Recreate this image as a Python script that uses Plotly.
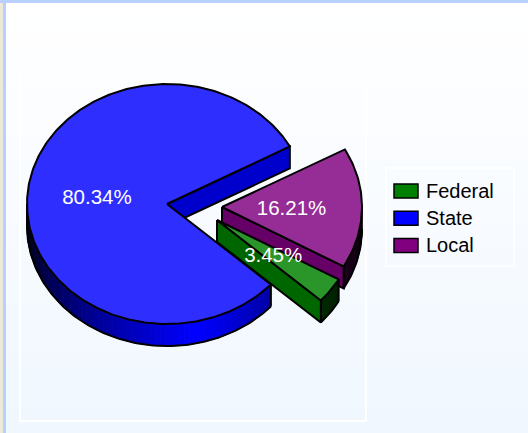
import math
import plotly.graph_objects as go

categories = ["Federal", "State", "Local"]
values = [3.45, 80.34, 16.21]
label_texts = ["3.45%", "80.34%", "16.21%"]

W, H = 528, 433
START = -29.7          # ellipse angle where the first slice begins; slices run clockwise
RX, RY, DEPTH = 140, 120, 22
CENTERS = {"Federal": (217, 220), "State": (167, 204), "Local": (222, 207)}
BASE = {"Federal": (0, 128, 0), "State": (0, 0, 255), "Local": (128, 0, 128)}
TOP = {"Federal": (42, 150, 42), "State": (46, 46, 255), "Local": (150, 45, 150)}
EDGE = {"Federal": (0, 102, 0), "State": (0, 0, 204), "Local": (102, 0, 102)}
SHADE = {"Federal": (-45, 50, 0.35), "State": (-78, 102, 1.0), "Local": (-45, 50, 0.35)}
LABEL_DY = 2


def rgb(c):
    return "rgb(%d,%d,%d)" % tuple(round(v) for v in c)


def pt(center, t, dy=0):
    r = math.radians(t)
    return center[0] + RX * math.cos(r), center[1] - RY * math.sin(r) + dy


def arc(center, t0, t1, dy=0, step=1.0):
    n = max(2, int(abs(t1 - t0) / step) + 1)
    pts = [pt(center, t0 + (t1 - t0) * i / (n - 1), dy) for i in range(n)]
    return [p[0] for p in pts], [p[1] for p in pts]


fig = go.Figure()


def poly(xs, ys, fill, line="black", width=2):
    fig.add_trace(go.Scatter(
        x=xs + xs[:1], y=ys + ys[:1], mode="lines", fill="toself", fillcolor=fill,
        line=dict(color=line, width=width), hoverinfo="skip", showlegend=False))


def stroke(xs, ys, width=2):
    fig.add_trace(go.Scatter(
        x=xs, y=ys, mode="lines", line=dict(color="black", width=width),
        hoverinfo="skip", showlegend=False))


# slice angle ranges, clockwise from START
spans = {}
a = START
total = sum(values)
for name, v in zip(categories, values):
    spans[name] = (a, a - v / total * 360)
    a -= v / total * 360

labels = []
for name, text in zip(categories, label_texts):
    t0, t1 = spans[name]
    c = CENTERS[name]
    mid = math.radians((t0 + t1) / 2)
    labels.append((c[0] + 0.5 * RX * math.cos(mid) - 0.5, c[1] - 0.5 * RY * math.sin(mid) + LABEL_DY, text))

for name in ["State", "Local", "Federal"]:
    t0, t1 = spans[name]
    c = CENTERS[name]
    # outer wall: only the part of the rim in the lower half (-180..0) can be seen
    if name == "Local":
        lo, hi = t1 + 360, 0
    else:
        lo, hi = max(t1, -180), t0
    peak, span, gain = SHADE[name]
    n = max(2, int((hi - lo) / 2))
    for i in range(n):
        a0 = lo + (hi - lo) * i / n
        a1 = lo + (hi - lo) * (i + 1) / n
        s = gain * max(0, 1 - abs((a0 + a1) / 2 - peak) / span)
        col = rgb(tuple(v * s for v in BASE[name]))
        xt, yt = arc(c, a0, a1)
        xb, yb = arc(c, a1, a0, DEPTH)
        poly(xt + xb, yt + yb, col, col, 1)
    xb, yb = arc(c, lo, hi, DEPTH)
    stroke(xb, yb)
    for t in (lo, hi):
        p = pt(c, t)
        if t != 0:
            stroke([p[0], p[0]], [p[1], p[1] + DEPTH])
    # side wall at the clockwise end of the slice
    p = pt(c, t1)
    poly([c[0], p[0], p[0], c[0]], [c[1], p[1], p[1] + DEPTH, c[1] + DEPTH], rgb(EDGE[name]))
    # top face
    xa, ya = arc(c, t0, t1)
    poly([c[0]] + xa, [c[1]] + ya, rgb(TOP[name]))

fig.add_trace(go.Scatter(
    x=[l[0] for l in labels], y=[l[1] for l in labels], text=[l[2] for l in labels],
    mode="text", textposition="middle center", hoverinfo="skip", showlegend=False,
    textfont=dict(family="Liberation Sans", size=20.5, color="white")))

shapes = []
# page background
TOPC, BOT = (255, 255, 255), (240, 247, 255)
for y in range(0, H, 8):
    f = y / H
    col = rgb(tuple(TOPC[i] + (BOT[i] - TOPC[i]) * f for i in range(3)))
    shapes.append(dict(type="rect", layer="below", x0=0, x1=W, y0=y, y1=y + 8,
                       fillcolor=col, line=dict(width=0)))
shapes.append(dict(type="rect", layer="below", x0=0, x1=W, y0=0, y1=3,
                   fillcolor="rgb(184,207,255)", line=dict(width=0)))
shapes.append(dict(type="rect", layer="below", x0=3, x1=6, y0=0, y1=H,
                   fillcolor="rgb(184,207,255)", line=dict(width=0)))
shapes.append(dict(type="rect", layer="below", x0=0, x1=3, y0=3, y1=H,
                   fillcolor="rgb(236,233,216)", line=dict(width=0)))
shapes.append(dict(type="rect", layer="below", x0=20, x1=366, y0=70, y1=421,
                   fillcolor="rgba(0,0,0,0)", line=dict(color="white", width=2)))
shapes.append(dict(type="rect", layer="below", x0=386, x1=514, y0=168, y1=266,
                   fillcolor="rgba(0,0,0,0)", line=dict(color="white", width=1.5)))

annotations = []
for i, name in enumerate(categories):
    yc = 191 + i * 27.3
    shapes.append(dict(type="rect", x0=394, x1=418, y0=yc - 7, y1=yc + 7,
                       fillcolor=rgb(BASE[name]), line=dict(color="black", width=1.5)))
    annotations.append(dict(x=424, y=yc - 0.5, text=name, xanchor="left", yanchor="middle",
                            showarrow=False, xref="x", yref="y",
                            font=dict(family="Liberation Sans", size=20, color="black")))

fig.update_layout(
    width=W, height=H, margin=dict(l=0, r=0, t=0, b=0),
    paper_bgcolor="white", plot_bgcolor="rgba(0,0,0,0)", showlegend=False,
    xaxis=dict(range=[0, W], visible=False, fixedrange=True),
    yaxis=dict(range=[H, 0], visible=False, fixedrange=True),
    shapes=shapes, annotations=annotations)

fig.write_html("out.html", config=dict(displayModeBar=False),
               post_script="document.body.style.margin='0';document.body.style.overflow='hidden';")
